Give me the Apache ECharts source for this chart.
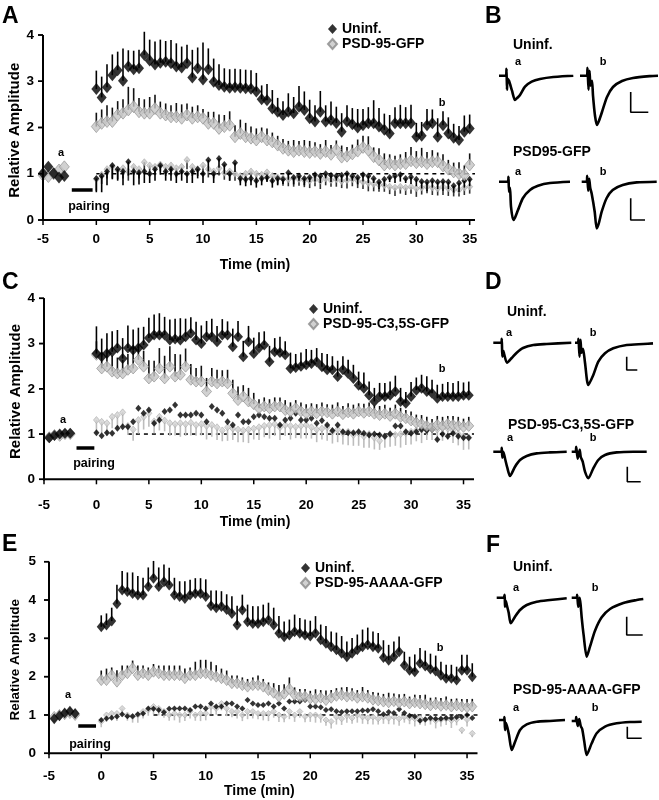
<!DOCTYPE html>
<html><head><meta charset="utf-8">
<script src="https://cdn.jsdelivr.net/npm/echarts@6/dist/echarts.min.js"></script>
<style>html,body{margin:0;padding:0;background:#fff}#c{width:659px;height:800px}</style>
</head><body><div id="c"></div>
<script>
// ---------- shared axis data ----------
const times = [0,0.5,1,1.5,2,2.5,3,3.5,4,4.5,5,5.5,6,6.5,7,7.5,8,8.5,9,9.5,10,10.5,11,11.5,12,12.5,13,13.5,14,14.5,15,15.5,16,16.5,17,17.5,18,18.5,19,19.5,20,20.5,21,21.5,22,22.5,23,23.5,24,24.5,25,25.5,26,26.5,27,27.5,28,28.5,29,29.5,30,30.5,31,31.5,32,32.5,33,33.5,34,34.5,35,35.5];
const xTicks = [-5,0,5,10,15,20,25,30,35];
const yTicks4 = [0,1,2,3,4];
const yTicks5 = [0,1,2,3,4,5];

// ---------- panel A ----------
const A_baseTimes = [-5,-4.5,-4,-3.5,-3];
const A_uninfBase = [1.01,1.15,1.01,0.92,0.95];
const A_gfpBase = [0.97,0.94,1.0,1.08,1.15];
const A_uninf = [2.83,2.65,2.87,3.13,3.24,3.01,3.32,3.26,3.28,3.57, 3.45,3.36,3.40,3.42,3.39,3.32,3.30,3.39,3.08,3.28, 3.04,3.26,2.99,2.92,2.88,2.86,2.87,2.86,2.85,2.84, 2.78,2.61,2.59,2.41,2.34,2.27,2.34,2.31,2.45,2.38, 2.20,2.13,2.34,2.13,2.16,2.10,1.91,2.13,2.07,2.00, 2.05,2.09,2.09,2.02,1.95,1.87,2.09,2.09,2.09,2.09, 1.80,1.82,2.05,2.09,1.80,2.05,1.87,1.78,1.73,1.91,1.98];
const A_uninfErr = [0.4,0.45,0.5,0.45,0.4,0.7,0.35,0.4,0.4,0.5, 0.45,0.5,0.5,0.45,0.5,0.5,0.45,0.4,0.6,0.45, 0.8,0.45,0.5,0.45,0.4,0.4,0.4,0.4,0.4,0.4, 0.4,0.3,0.35,0.4,0.3,0.3,0.4,0.35,0.45,0.4, 0.4,0.35,0.45,0.35,0.4,0.35,0.4,0.35,0.35,0.4, 0.35,0.35,0.5,0.4,0.35,0.4,0.35,0.4,0.35,0.4, 0.3,0.3,0.35,0.3,0.4,0.3,0.35,0.3,0.3,0.35,0.3];
const A_gfp = [2.02,2.09,2.13,2.13,2.27,2.31,2.38,2.45,2.34,2.31, 2.31,2.41,2.31,2.27,2.23,2.23,2.20,2.27,2.20,2.23, 2.20,2.09,2.09,1.98,2.02,2.05,1.80,1.87,1.80,1.77, 1.73,1.80,1.73,1.69,1.62,1.55,1.51,1.48,1.51,1.48, 1.46,1.48,1.44,1.48,1.42,1.52,1.36,1.38,1.43,1.49, 1.57,1.51,1.37,1.30,1.19,1.22,1.19,1.22,1.22,1.28, 1.24,1.26,1.22,1.26,1.26,1.17,1.10,1.04,1.00,0.98,1.19];
const A_gfpErr = [0.3,0.3,0.35,0.3,0.3,0.3,0.5,0.4,0.3,0.3, 0.35,0.3,0.25,0.25,0.25,0.3,0.3,0.25,0.25,0.25, 0.2,0.25,0.25,0.3,0.25,0.3,0.25,0.3,0.3,0.25, 0.25,0.2,0.25,0.2,0.2,0.2,0.2,0.25,0.2,0.25, 0.25,0.2,0.2,0.25,0.2,0.2,0.25,0.2,0.2,0.25, 0.25,0.3,0.2,0.25,0.25,0.2,0.2,0.2,0.25,0.3, 0.25,0.3,0.25,0.25,0.2,0.25,0.2,0.2,0.25,0.2,0.25];
const A_uninfCtl = [0.90,0.95,1.05,1.18,1.10,1.05,1.26,1.05,1.02,1.05, 1.00,1.10,1.18,1.05,1.10,1.00,1.05,1.00,1.05,1.10, 1.00,1.30,1.00,1.33,1.20,1.00,1.24,0.90,0.88,0.90, 0.85,0.90,0.92,0.85,0.90,0.88,1.02,0.92,0.95,0.90, 0.92,0.98,0.95,1.00,0.97,0.95,0.97,1.00,0.95,0.92, 0.98,0.95,0.90,0.82,0.88,0.92,0.95,0.98,0.90,0.93, 0.88,0.83,0.82,0.85,0.82,0.83,0.82,0.74,0.80,0.85,0.88];
const A_uninfCtlErr = [0.3,0.35,0.3,0.3,0.25,0.3,0.3,0.3,0.25,0.25, 0.2,0.25,0.2,0.2,0.25,0.2,0.2,0.2,0.25,0.2, 0.2,0.25,0.2,0.2,0.2,0.15,0.2,0.15,0.15,0.15, 0.15,0.15,0.1,0.15,0.15,0.1,0.15,0.15,0.1,0.15, 0.1,0.15,0.15,0.1,0.15,0.1,0.15,0.15,0.1,0.15, 0.15,0.15,0.1,0.15,0.15,0.1,0.15,0.15,0.1,0.15, 0.15,0.15,0.2,0.15,0.15,0.2,0.15,0.15,0.2,0.15,0.15];
const A_gfpCtl = [0.88,0.98,1.10,1.15,1.08,1.12,1.05,1.15,1.10,1.25, 1.18,1.15,1.20,1.15,1.18,1.12,1.15,1.30,1.15,1.10, 1.18,1.10,1.05,1.12,1.02,1.05,1.00,0.95,1.00,1.05, 1.00,0.98,1.03,0.95,0.92,0.90,0.88,0.90,0.88,0.86, 0.85,0.88,0.85,0.90,0.86,0.88,0.84,0.86,0.88,0.85, 0.82,0.80,0.78,0.76,0.75,0.72,0.70,0.72,0.70,0.72, 0.68,0.70,0.72,0.70,0.68,0.72,0.68,0.66,0.65,0.70,0.72];
const A_gfpCtlErr = [0.25,0.2,0.2,0.25,0.2,0.22,0.2,0.18,0.2,0.2, 0.2,0.18,0.15,0.2,0.22,0.2,0.15,0.2,0.2,0.15, 0.2,0.18,0.15,0.16,0.15,0.2,0.15,0.14,0.2,0.15, 0.16,0.15,0.18,0.14,0.15,0.16,0.15,0.18,0.14,0.15, 0.16,0.15,0.18,0.15,0.14,0.16,0.15,0.18,0.15,0.16, 0.15,0.18,0.16,0.15,0.14,0.16,0.18,0.15,0.16,0.15, 0.18,0.15,0.14,0.16,0.15,0.18,0.16,0.15,0.14,0.16,0.15];
const A_pairing = [[-2.3,0.65],[-0.35,0.65]];
const A_refLine = [[0,1],[35.5,1]];

// ---------- panel C ----------
const C_baseTimes = [-4.5,-4,-3.5,-3,-2.5];
const C_uninfBase = [0.92,0.97,1.0,1.02,1.02];
const C_gfpBase = [0.93,0.98,0.96,1.0,1.0];
const C_uninf = [2.78,2.71,2.78,2.82,2.90,2.67,2.90,2.86,2.90,2.97, 3.12,3.19,3.19,3.19,3.08,3.10,3.08,3.15,3.23,3.08, 3.00,3.15,3.15,3.04,3.19,3.19,2.93,3.15,2.71,3.04, 2.78,2.90,2.97,2.60,2.82,2.80,2.75,2.45,2.47,2.50, 2.53,2.56,2.60,2.49,2.42,2.42,2.27,2.42,2.34,2.23, 2.08,2.01,1.86,1.72,1.83,1.83,1.86,1.94,1.72,1.68, 1.83,1.97,2.01,1.94,1.90,1.79,1.83,1.83,1.83,1.83,1.86,1.86];
const C_uninfErr = [0.6,0.4,0.45,0.45,0.4,0.45,0.5,0.45,0.45,0.4, 0.45,0.45,0.48,0.4,0.45,0.45,0.48,0.4,0.35,0.4, 0.4,0.35,0.4,0.35,0.35,0.3,0.4,0.35,0.35,0.35, 0.35,0.35,0.3,0.35,0.3,0.35,0.3,0.35,0.3,0.3, 0.35,0.3,0.3,0.3,0.35,0.3,0.35,0.3,0.3,0.3, 0.3,0.35,0.3,0.3,0.3,0.3,0.3,0.35,0.3,0.25, 0.32,0.28,0.3,0.34,0.3,0.3,0.28,0.32,0.3,0.34,0.28,0.3];
const C_gfp = [2.75,2.45,2.49,2.38,2.34,2.34,2.42,2.45,2.64,2.49, 2.23,2.27,2.45,2.23,2.49,2.27,2.31,2.49,2.20,2.16, 2.16,1.94,2.16,2.12,2.16,2.12,1.90,1.75,1.83,1.72, 1.66,1.57,1.61,1.57,1.61,1.61,1.53,1.50,1.57,1.50, 1.46,1.50,1.46,1.50,1.48,1.45,1.50,1.44,1.48,1.45, 1.50,1.47,1.50,1.45,1.42,1.45,1.40,1.45,1.38,1.35, 1.30,1.25,1.22,1.18,1.15,1.20,1.18,1.22,1.20,1.18,1.16,1.18];
const C_gfpErr = [0.3,0.35,0.3,0.35,0.35,0.3,0.35,0.4,0.3,0.35, 0.4,0.35,0.45,0.5,0.45,0.5,0.45,0.4,0.35,0.3, 0.35,0.3,0.3,0.3,0.25,0.3,0.3,0.3,0.25,0.3, 0.25,0.2,0.2,0.2,0.2,0.2,0.22,0.2,0.18,0.2, 0.2,0.18,0.2,0.2,0.18,0.2,0.2,0.18,0.2,0.2, 0.18,0.2,0.2,0.18,0.2,0.2,0.18,0.2,0.2,0.18, 0.2,0.18,0.2,0.2,0.18,0.2,0.2,0.18,0.2,0.2,0.18,0.2];
const C_uninfCtl = [1.03,0.96,1.03,1.02,1.13,1.16,1.16,1.27,1.57,1.46, 1.53,1.24,1.31,1.50,1.53,1.64,1.42,1.42,1.42,1.46, 1.42,1.27,1.61,1.53,1.46,1.27,1.20,1.42,1.27,1.27, 1.38,1.42,1.38,1.35,1.35,1.20,1.31,1.35,1.46,1.31, 1.31,1.35,1.24,1.30,1.20,1.08,1.20,1.05,1.03,1.03, 1.05,1.02,0.98,1.00,0.98,0.95,1.00,1.18,1.18,1.05, 1.02,1.05,1.10,1.08,1.10,0.88,1.00,0.95,1.02,0.95,0.92,0.92];
const C_gfpCtl = [1.31,1.27,1.24,1.38,1.42,1.48,1.18,1.10,1.31,1.38, 1.46,1.28,1.38,1.30,1.24,1.22,1.24,1.22,1.25,1.20, 1.22,1.18,1.20,1.15,1.08,1.15,1.12,1.10,1.08,1.10, 1.12,1.15,1.18,1.20,1.22,1.15,1.20,1.18,1.16,1.18, 1.20,1.15,1.10,1.12,1.15,1.05,1.10,1.02,1.05,0.98, 1.02,0.95,1.00,0.92,0.85,0.95,1.00,0.98,1.00,1.02, 1.05,1.08,1.10,1.12,1.15,1.10,1.15,1.12,1.08,1.00,0.95,0.92];
const C_gfpCtlErr = [0.3,0.25,0.28,0.25,0.3,0.32,0.2,0.25,0.3,0.28, 0.3,0.26,0.3,0.24,0.28,0.25,0.3,0.26,0.28,0.24, 0.25,0.3,0.26,0.28,0.24,0.3,0.25,0.28,0.26,0.3, 0.24,0.28,0.25,0.3,0.26,0.28,0.24,0.3,0.25,0.28, 0.3,0.25,0.28,0.24,0.3,0.26,0.28,0.25,0.3,0.24, 0.28,0.25,0.3,0.26,0.2,0.25,0.28,0.24,0.3,0.26, 0.28,0.24,0.3,0.25,0.28,0.26,0.3,0.24,0.28,0.25,0.3,0.26];
const C_pairing = [[-1.9,0.69],[-0.2,0.69]];
const C_refLine = [[3,1],[36,1]];

// ---------- panel E ----------
const E_baseTimes = [-4.5,-4,-3.5,-3,-2.5];
const E_uninfBase = [0.90,0.98,1.05,1.10,1.04];
const E_gfpBase = [0.95,1.0,1.02,1.05,1.0];
const E_uninf = [3.30,3.35,3.45,3.90,4.26,4.22,4.17,4.13,4.13,4.35, 4.57,4.35,4.48,4.39,4.13,4.09,4.04,4.13,4.17,4.17, 4.09,3.85,3.80,3.83,3.75,3.65,3.35,3.74,3.43,3.39, 3.39,3.43,3.48,3.35,3.13,3.04,3.09,3.17,3.13,3.09, 3.06,3.13,2.96,2.87,2.78,2.70,2.61,2.52,2.61,2.70, 2.78,2.83,2.78,2.74,2.50,2.43,2.52,2.65,2.30,2.17, 2.13,2.35,2.28,2.20,2.15,2.04,1.96,1.96,1.91,2.17,2.17,2.00];
const E_uninfErr = [0.3,0.3,0.35,0.5,0.5,0.5,0.55,0.5,0.45,0.5, 0.45,0.5,0.45,0.45,0.45,0.4,0.45,0.4,0.4,0.4, 0.45,0.4,0.45,0.4,0.4,0.45,0.5,0.4,0.45,0.45, 0.45,0.45,0.45,0.45,0.45,0.4,0.4,0.45,0.4,0.4, 0.4,0.45,0.4,0.45,0.4,0.45,0.45,0.4,0.4,0.4, 0.45,0.45,0.4,0.4,0.45,0.4,0.4,0.4,0.35,0.35, 0.45,0.4,0.4,0.4,0.4,0.35,0.35,0.35,0.35,0.4,0.4,0.35];
const E_gfp = [1.91,1.91,2.04,1.87,2.04,2.09,2.22,2.04,2.09,2.04, 2.13,2.09,2.04,2.04,2.04,2.04,1.96,2.04,2.04,2.09, 2.09,2.04,2.00,1.96,1.91,1.83,1.83,1.78,1.74,1.78, 1.78,1.74,1.65,1.58,1.48,1.55,1.68,1.52,1.48,1.48, 1.43,1.42,1.45,1.39,1.45,1.50,1.52,1.48,1.50,1.45, 1.48,1.45,1.40,1.38,1.35,1.33,1.36,1.32,1.35,1.30, 1.33,1.30,1.28,1.25,1.28,1.24,1.26,1.22,1.25,1.22,1.20,1.22];
const E_gfpErr = [0.25,0.3,0.2,0.3,0.25,0.2,0.2,0.25,0.2,0.2, 0.2,0.2,0.25,0.25,0.25,0.25,0.25,0.2,0.35,0.35, 0.35,0.35,0.3,0.25,0.25,0.2,0.2,0.2,0.2,0.2, 0.25,0.2,0.2,0.25,0.3,0.25,0.3,0.2,0.2,0.2, 0.2,0.25,0.2,0.25,0.2,0.2,0.2,0.25,0.2,0.2, 0.25,0.2,0.2,0.2,0.2,0.25,0.2,0.22,0.2,0.18, 0.2,0.22,0.25,0.2,0.18,0.2,0.22,0.2,0.18,0.2,0.22,0.2];
const E_uninfCtl = [0.87,0.91,0.93,0.96,1.02,0.97,0.97,1.02,1.04,1.17, 1.16,1.13,1.07,1.16,1.17,1.17,1.17,1.13,1.22,1.22, 1.17,1.30,1.22,1.22,1.30,1.30,1.22,1.17,1.39,1.30, 1.26,1.26,1.30,1.22,1.30,1.17,1.35,1.35,1.35,1.39, 1.22,1.22,1.20,1.13,1.15,1.10,1.08,1.10,1.10,1.10, 1.12,1.12,1.15,1.10,1.02,1.08,1.05,1.15,1.05,0.98, 0.96,0.85,0.88,0.92,0.90,0.90,0.92,0.92,0.95,0.95,1.00,0.92];
const E_gfpCtl = [0.83,1.00,1.04,1.04,1.17,1.00,0.96,1.00,1.09,1.13, 1.22,1.17,1.09,1.00,1.04,1.00,1.00,1.09,1.00,1.04, 1.04,1.22,1.17,1.30,1.17,1.09,1.09,1.00,1.09,1.09, 1.04,1.04,1.04,1.09,1.00,0.96,1.09,1.00,1.09,0.96, 1.00,1.00,0.96,0.87,0.83,0.95,0.90,0.98,0.92,1.00, 0.95,0.92,0.95,0.90,0.95,0.92,0.95,0.90,0.95,0.92, 0.90,0.92,0.88,0.90,0.85,0.88,0.90,0.86,0.88,0.61,0.88,0.52];
const E_gfpCtlErr = [0.15,0.18,0.15,0.2,0.18,0.15,0.16,0.2,0.18,0.15, 0.2,0.18,0.16,0.15,0.18,0.2,0.16,0.18,0.15,0.2, 0.18,0.2,0.16,0.18,0.2,0.15,0.18,0.16,0.2,0.18, 0.15,0.18,0.2,0.16,0.18,0.15,0.2,0.18,0.16,0.15, 0.18,0.2,0.16,0.15,0.18,0.2,0.16,0.18,0.15,0.2, 0.18,0.16,0.2,0.15,0.18,0.16,0.2,0.18,0.15,0.16, 0.2,0.18,0.16,0.15,0.2,0.18,0.16,0.2,0.15,0.1,0.18,0.1];
const E_pairing = [[-2.2,0.71],[-0.5,0.71]];
const E_refLine = [[5,1],[36,1]];

// ---------- EPSC traces: [time, current] relative to baseline ----------
const B_un_a = [[0,0],[7,0],[7.5,7],[8,-14],[8.5,-3],[10,-5],[13,-15],[16,-24.3],[18,-22.5],[21,-19.3],[26,-11],[32.7,-6],[41,-3.3],[54.3,-1.3],[74.3,0]];
const B_un_b = [[0,0],[7,0],[7.5,8],[8.5,-14],[9.5,5],[10.5,-10],[12,-5],[13,-20],[15,-40],[17,-49.3],[19,-45],[22,-36.3],[27,-21.3],[33,-11.3],[42,-5.3],[53,-2.3],[70,-0.4],[78,0]];
const B_gfp_a = [[0,0],[9,0],[9.5,5],[10,-10],[11,-6],[12,-25],[14.3,-38.3],[16,-36],[19,-28.3],[24,-16.3],[31,-8.3],[39,-4],[51,-1.3],[71,0]];
const B_gfp_b = [[0,0],[5,0],[5.5,6],[6.5,-9],[7.5,3],[8.5,-6],[10,-12],[13,-30],[15,-46.7],[17,-42],[20,-30],[25,-16.3],[31,-8.3],[41,-3.3],[55,-0.7],[75,0]];
const D_un_a = [[0,0],[8,0],[8.5,4],[9,-14],[10,-8],[11,-12],[13.7,-20],[18.4,-15.3],[23.4,-10],[29.7,-5.3],[40,-2.3],[53.4,-1.3],[78,0]];
const D_un_b = [[0,0],[3,0],[3.5,4],[4.5,-14],[5.5,3],[6.5,-10],[8,-6],[10,-20],[13.3,-42.3],[18.3,-32.3],[23.3,-19],[30,-10.6],[38.3,-5.6],[51.7,-2.3],[68.3,-1.3],[78,-0.7]];
const D_psd_a = [[0,0],[8,0],[8.5,4],[9,-6],[10,0],[12,-8],[14,-16],[16.7,-24.3],[21.7,-15],[26.7,-8.3],[33.4,-4.3],[43.4,-1.7],[56.7,-0.7],[73.4,0]];
const D_psd_b = [[0,0],[4,0],[4.5,5],[6,-7],[8,2],[9,-5],[11,-10],[13.3,-20],[16.6,-26.6],[21.6,-16.6],[26.6,-8.3],[33.3,-3.3],[45,-0.7],[61.6,0],[75,0]];
const F_un_a = [[0,0],[7,0],[8,3],[8.3,-9],[9,-3],[10,-7],[12,-15],[14,-25.6],[18.3,-19],[23.3,-12.3],[30,-7.3],[40,-4],[53.3,-2.3],[70,-0.6]];
const F_un_b = [[0,0],[5,0],[5.5,3],[6.5,-9],[8,0],[9,-8],[10,-20],[12,-38],[15,-59],[18.3,-49],[23.3,-33],[30,-19.6],[38.3,-11.3],[51.6,-5.3],[65,-2.3],[71.6,-1.3]];
const F_psd_a = [[0,0],[5,0],[5.5,3],[6,-10],[7,-3],[8.5,-8],[10,-15],[12.7,-30],[16,-22],[21,-10],[27.7,-4.3],[37.7,-1.7],[51,-1],[66,0]];
const F_psd_b = [[0,0],[4,0],[4.5,4],[6,-5],[7.5,2],[9,-5],[10.5,-8],[12.5,-20],[15,-34],[20,-22.3],[25,-12.3],[33.3,-5.6],[45,-2.3],[58.3,-1],[70,-0.7]];
const B_un_bar = [[50.7,-16.3],[50.7,-36.6],[68.3,-36.6]];
const B_gfp_bar = [[49,-16.6],[49,-38.3],[63.3,-38.3]];
const D_un_bar = [[51.7,-14],[51.7,-27.3],[62.3,-27.3]];
const D_psd_bar = [[55.6,-15],[55.6,-30],[69,-30]];
const F_un_bar = [[55,-19],[55,-37.3],[71,-37.3]];
const F_psd_bar = [[55.6,-5.7],[55.6,-17.3],[70,-17.3]];

// ---------- build ----------
const FONT = "'Liberation Sans', Arial, sans-serif";
const BLACK = '#000';
const GREY = '#c6c6c6', GREY_B = '#8a8a8a';
const X_PAD = 0.75;   // axis range padding (min) so the axis frame is drawn inside the grid
const Y_PAD = 0.12;

const grids = [], xAxes = [], yAxes = [], series = [], frameGraphics = [];

function mainPanel(cfg) {
  const gi = grids.length;
  const ymax = cfg.yTicks[cfg.yTicks.length - 1];
  const xmin = xTicks[0];
  // cfg.left/top/width/height describe the visible frame; the grid is padded around it
  const pxX = cfg.width / (cfg.xmax - xmin);
  const pxY = cfg.height / ymax;
  grids.push({left: cfg.left - X_PAD * pxX, top: cfg.top, width: cfg.width + X_PAD * pxX,
    height: cfg.height + Y_PAD * pxY, outerBoundsMode: 'none', containLabel: false});
  xAxes.push({
    gridIndex: gi, type: 'value', min: xmin - X_PAD, max: cfg.xmax,
    axisLine: {show: false, onZero: false}, axisTick: {show: false},
    axisLabel: {customValues: xTicks, color: BLACK, fontFamily: FONT, fontWeight: 'bold', fontSize: 13.5, margin: cfg.xLabelMargin - Y_PAD * pxY},
    splitLine: {show: false},
    name: 'Time (min)', nameLocation: 'middle', nameGap: cfg.xNameGap - Y_PAD * pxY,
    nameTextStyle: {color: BLACK, fontFamily: FONT, fontWeight: 'bold', fontSize: 14}
  });
  yAxes.push({
    gridIndex: gi, type: 'value', min: -Y_PAD, max: ymax,
    axisLine: {show: false, onZero: false}, axisTick: {show: false},
    axisLabel: {customValues: cfg.yTicks, color: BLACK, fontFamily: FONT, fontWeight: 'bold', fontSize: 13.5, margin: cfg.yLabelMargin - X_PAD * pxX},
    splitLine: {show: false},
    name: 'Relative Amplitude', nameLocation: 'middle', nameGap: cfg.yNameGap - X_PAD * pxX, nameMoveOverlap: false,
    nameTextStyle: {color: BLACK, fontFamily: FONT, fontWeight: 'bold', fontSize: cfg.yNameSize}
  });
  // axis frame drawn through the axis scales (same drawing path as the error bars)
  const seg = (data, encode, fn, width) => ({
    type: 'custom', xAxisIndex: gi, yAxisIndex: gi, z: 10, silent: true, data, encode,
    renderItem: (p, api) => {
      const s = fn(api);
      return {type: 'line', shape: {x1: s[0], y1: s[1], x2: s[2], y2: s[3]}, style: {stroke: BLACK, lineWidth: width}};
    }
  });
  series.push(seg([[xmin, 0, ymax]], {x: 0, y: [1, 2]}, api => {
    const a = api.coord([api.value(0), api.value(1)]), b = api.coord([api.value(0), api.value(2)]);
    return [a[0], a[1] + 1, b[0], b[1]];
  }, 2));
  series.push(seg(cfg.yTicks.map(v => [xmin, v]), {x: 0, y: 1}, api => {
    const c = api.coord([api.value(0), api.value(1)]);
    return [c[0] - 5, c[1], c[0], c[1]];
  }, 1.5));
  series.push(seg([[xmin, cfg.xmax, 0]], {x: [0, 1], y: 2}, api => {
    const a = api.coord([api.value(0), api.value(2)]), b = api.coord([api.value(1), api.value(2)]);
    return [a[0] - 1, a[1], b[0], b[1]];
  }, 2));
  series.push(seg(xTicks.map(v => [v, 0]), {x: 0, y: 1}, api => {
    const c = api.coord([api.value(0), api.value(1)]);
    return [c[0], c[1], c[0], c[1] + 5];
  }, 1.5));
  // fallback copy of the left frame line at the same place
  const ax = cfg.left, yb = cfg.top + cfg.height;
  frameGraphics.push({type: 'line', shape: {x1: ax, y1: yb + 1, x2: ax, y2: cfg.top}, style: {stroke: BLACK, lineWidth: 2}});
  cfg.yTicks.forEach(v => {
    const y = cfg.top + cfg.height * (1 - v / ymax);
    frameGraphics.push({type: 'line', shape: {x1: ax - 5, y1: y, x2: ax, y2: y}, style: {stroke: BLACK, lineWidth: 1.5}});
  });

  const pts = (xs, ys) => ys.map((v, i) => [xs[i], v]);
  const errBars = (vals, errs, dir, color, z) => ({
    type: 'custom', xAxisIndex: gi, yAxisIndex: gi, z, silent: true,
    data: vals.map((v, i) => [times[i], v, v + dir * (errs[i] || 0)]),
    encode: {x: 0, y: [1, 2]},
    renderItem: (p, api) => {
      const a = api.coord([api.value(0), api.value(1)]);
      const b = api.coord([api.value(0), api.value(2)]);
      return {type: 'line', shape: {x1: a[0], y1: a[1], x2: b[0], y2: b[1]}, style: {stroke: color, lineWidth: 1.6}};
    }
  });
  const sc = (name, data, size, style, z) => ({
    name, type: 'scatter', xAxisIndex: gi, yAxisIndex: gi, z, symbol: 'diamond', symbolSize: size,
    itemStyle: style, data, silent: true
  });
  const blackStyle = {color: BLACK};
  const greyStyle = {color: GREY, borderColor: GREY_B, borderWidth: 0.8};
  const greySmallStyle = {color: cfg.greySmall, borderColor: '#9a9a9a', borderWidth: 0.6};
  series.push({type: 'line', xAxisIndex: gi, yAxisIndex: gi, z: 1, data: cfg.refLine, showSymbol: false, silent: true,
    lineStyle: {color: BLACK, width: 1.5, type: [4, 4]}});
  series.push({type: 'line', xAxisIndex: gi, yAxisIndex: gi, z: 1, data: cfg.pairing, showSymbol: false, silent: true,
    lineStyle: {color: BLACK, width: 3.5, cap: 'butt'}});
  if (cfg.gfpCtlErr) series.push(errBars(cfg.gfpCtl, cfg.gfpCtlErr, -1, cfg.gfpCtlErrColor, 2));
  series.push(sc('ctl-gfp', pts(times, cfg.gfpCtl), cfg.smallSize, greySmallStyle, 3));
  if (cfg.uninfCtlErr) series.push(errBars(cfg.uninfCtl, cfg.uninfCtlErr, -1, BLACK, 4));
  series.push(sc('ctl-uninf', pts(times, cfg.uninfCtl), cfg.smallSize, blackStyle, 5));
  series.push(errBars(cfg.gfp, cfg.gfpErr, 1, '#111', 6));
  series.push(sc(cfg.gfpName, pts(cfg.baseTimes, cfg.gfpBase).concat(pts(times, cfg.gfp)), cfg.bigSize, greyStyle, 7));
  series.push(errBars(cfg.uninf, cfg.uninfErr, 1, BLACK, 8));
  series.push(sc('Uninf.', pts(cfg.baseTimes, cfg.uninfBase).concat(pts(times, cfg.uninf)), cfg.bigSize, blackStyle, 9));
}

mainPanel({left: 43, top: 35, width: 432, height: 185, xmax: 35.5, yTicks: yTicks4,
  xLabelMargin: 12, xNameGap: 38, yLabelMargin: 9, yNameGap: 21, yNameSize: 15,
  baseTimes: A_baseTimes, uninfBase: A_uninfBase, gfpBase: A_gfpBase,
  uninf: A_uninf, uninfErr: A_uninfErr, gfp: A_gfp, gfpErr: A_gfpErr,
  uninfCtl: A_uninfCtl, uninfCtlErr: A_uninfCtlErr, gfpCtl: A_gfpCtl, gfpCtlErr: A_gfpCtlErr, gfpCtlErrColor: '#333',
  pairing: A_pairing, refLine: A_refLine, gfpName: 'PSD-95-GFP', bigSize: [10, 12], smallSize: [6, 7], greySmall: GREY});
mainPanel({left: 44, top: 298.3, width: 430, height: 181, xmax: 36, yTicks: yTicks4,
  xLabelMargin: 19, xNameGap: 36, yLabelMargin: 9, yNameGap: 21, yNameSize: 15,
  baseTimes: C_baseTimes, uninfBase: C_uninfBase, gfpBase: C_gfpBase,
  uninf: C_uninf, uninfErr: C_uninfErr, gfp: C_gfp, gfpErr: C_gfpErr,
  uninfCtl: C_uninfCtl, uninfCtlErr: null, gfpCtl: C_gfpCtl, gfpCtlErr: C_gfpCtlErr, gfpCtlErrColor: '#bdbdbd',
  pairing: C_pairing, refLine: C_refLine, gfpName: 'PSD-95-C3,5S-GFP', bigSize: [10, 11], smallSize: [6, 7], greySmall: '#d2d2d2'});
mainPanel({left: 49, top: 561.7, width: 428.5, height: 191.6, xmax: 36, yTicks: yTicks5,
  xLabelMargin: 16, xNameGap: 30, yLabelMargin: 13, yNameGap: 27, yNameSize: 13.5,
  baseTimes: E_baseTimes, uninfBase: E_uninfBase, gfpBase: E_gfpBase,
  uninf: E_uninf, uninfErr: E_uninfErr, gfp: E_gfp, gfpErr: E_gfpErr,
  uninfCtl: E_uninfCtl, uninfCtlErr: null, gfpCtl: E_gfpCtl, gfpCtlErr: E_gfpCtlErr, gfpCtlErrColor: '#c0c0c0',
  pairing: E_pairing, refLine: E_refLine, gfpName: 'PSD-95-AAAA-GFP', bigSize: [9, 11], smallSize: [6, 6], greySmall: '#cfcfcf'});

const traceLayout = [
  {data: B_un_a, left: 499, top: 63.7}, {data: B_un_b, left: 580, top: 63.7, bar: B_un_bar},
  {data: B_gfp_a, left: 499, top: 169.7}, {data: B_gfp_b, left: 581.7, top: 169.7, bar: B_gfp_bar},
  {data: D_un_a, left: 493.3, top: 330.7}, {data: D_un_b, left: 575, top: 330.7, bar: D_un_bar},
  {data: D_psd_a, left: 493.3, top: 439.7}, {data: D_psd_b, left: 571.7, top: 439.7, bar: D_psd_bar},
  {data: F_un_a, left: 496.7, top: 585.7}, {data: F_un_b, left: 571.7, top: 585.7, bar: F_un_bar},
  {data: F_psd_a, left: 499, top: 708}, {data: F_psd_b, left: 571.7, top: 709, bar: F_psd_bar}
];
traceLayout.forEach(t => {
  const gi = grids.length;
  grids.push({left: t.left, top: t.top, width: 78, height: 74, outerBoundsMode: 'none', containLabel: false});
  xAxes.push({gridIndex: gi, type: 'value', min: 0, max: 78, show: false});
  yAxes.push({gridIndex: gi, type: 'value', min: -62, max: 12, show: false});
  series.push({type: 'line', xAxisIndex: gi, yAxisIndex: gi, data: t.data, showSymbol: false, smooth: 0.25, silent: true,
    lineStyle: {color: BLACK, width: 2.6, join: 'round'}});
  if (t.bar) series.push({type: 'line', xAxisIndex: gi, yAxisIndex: gi, data: t.bar, showSymbol: false, silent: true,
    lineStyle: {color: BLACK, width: 1.6}});
});

const txt = (text, x, y, size) => ({
  type: 'text', x, y, silent: true,
  style: {text, fill: BLACK, font: `bold ${size}px ${FONT}`, textAlign: 'left', textVerticalAlign: 'middle'}
});
const center = (t) => { t.style.textAlign = 'center'; return t; };
const graphics = frameGraphics.concat([
  txt('A', 2, 17, 23), txt('B', 485, 17, 23), txt('C', 2, 283, 23), txt('D', 485, 283, 23), txt('E', 2, 545, 23), txt('F', 486, 546, 23),
  center(txt('a', 61, 153, 11)), center(txt('b', 442, 103, 11)), center(txt('pairing', 89, 207, 12.5)),
  center(txt('a', 63, 420, 11)), center(txt('b', 442, 369, 11)), center(txt('pairing', 94, 464, 12.5)),
  center(txt('a', 68, 695, 11)), center(txt('b', 440, 648, 11)), center(txt('pairing', 90, 745, 12.5)),
  txt('Uninf.', 513, 45, 14), center(txt('a', 518, 62, 11)), center(txt('b', 603, 62, 11)),
  txt('PSD95-GFP', 513, 152, 14), center(txt('a', 518, 172, 11)), center(txt('b', 603, 172, 11)),
  txt('Uninf.', 507, 312, 14), center(txt('a', 509, 333, 11)), center(txt('b', 593, 333, 11)),
  txt('PSD-95-C3,5S-GFP', 508, 425, 14), center(txt('a', 510, 438, 11)), center(txt('b', 593, 438, 11)),
  txt('Uninf.', 513, 567, 14), center(txt('a', 516, 588, 11)), center(txt('b', 595, 588, 11)),
  txt('PSD-95-AAAA-GFP', 513, 690, 14), center(txt('a', 516, 708, 11)), center(txt('b', 595, 708, 11))
]);

const legendBase = {orient: 'vertical', itemWidth: 9, itemHeight: 10, itemGap: 1, padding: 0, selectedMode: false,
  textStyle: {color: BLACK, fontFamily: FONT, fontWeight: 'bold', fontSize: 14, lineHeight: 14}};
const legends = [
  Object.assign({left: 327, top: 22, data: [{name: 'Uninf.', icon: 'diamond'}, {name: 'PSD-95-GFP', icon: 'diamond'}]}, legendBase),
  Object.assign({left: 308, top: 302, data: [{name: 'Uninf.', icon: 'diamond'}, {name: 'PSD-95-C3,5S-GFP', icon: 'diamond'}]}, legendBase),
  Object.assign({left: 300, top: 561, data: [{name: 'Uninf.', icon: 'diamond'}, {name: 'PSD-95-AAAA-GFP', icon: 'diamond'}]}, legendBase)
];

const chart = echarts.init(document.getElementById('c'), null, {renderer: 'canvas'});
chart.setOption({
  animation: false, backgroundColor: '#fff',
  grid: grids, xAxis: xAxes, yAxis: yAxes, series, legend: legends, graphic: graphics
});
</script></body></html>
